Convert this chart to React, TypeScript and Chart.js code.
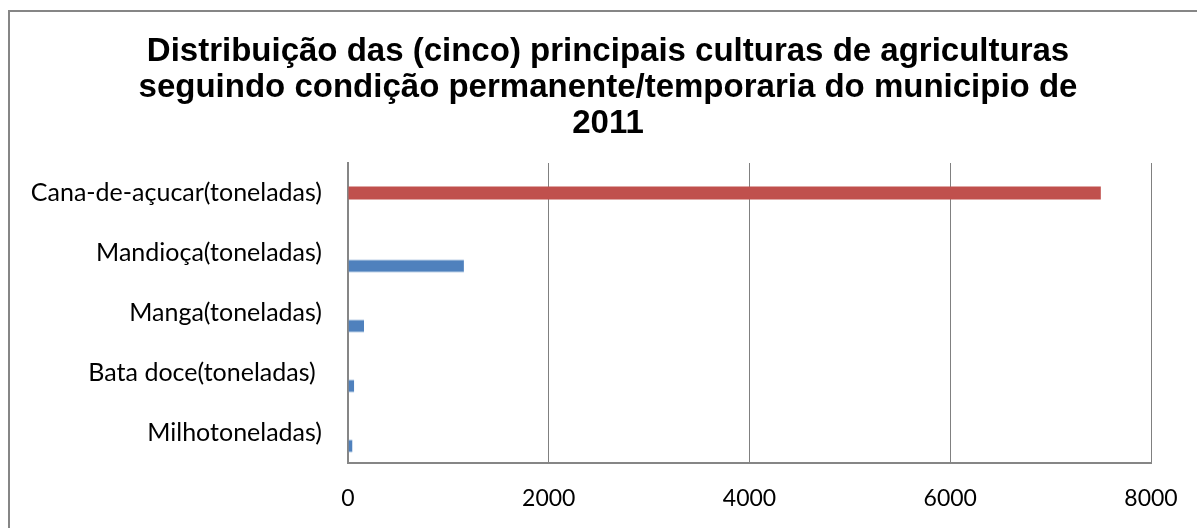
import React, { useEffect, useRef } from "react";
import { Chart, registerables } from "chart.js";

Chart.register(...registerables);

const categories = [
  "Cana-de-açucar(toneladas)",
  "Mandioça(toneladas)",
  "Manga(toneladas)",
  "Bata doce(toneladas) ",
  "Milhotoneladas)",
];
const serieTopo = [0, 0, 0, 0, 0];
const serieVermelha = [7500, 0, 0, 0, 0];
const serieAzul = [0, 1155, 160, 62, 45];
const titleLines = [
  "Distribuição das (cinco) principais culturas de agriculturas",
  "seguindo condição permanente/temporaria do municipio de",
  "2011",
];
const xTicks = [0, 2000, 4000, 6000, 8000];

const frame = {
  id: "frame",
  beforeDraw(chart: any) {
    const c = chart.ctx;
    c.save();
    c.strokeStyle = "#868686";
    c.lineWidth = 2;
    c.strokeRect(9, 11, 1400, 800);
    c.restore();
  },
};

const titleDraw = {
  id: "titleDraw",
  afterDraw(chart: any) {
    const c = chart.ctx;
    c.save();
    c.fillStyle = "#000";
    c.font = "bold 33px 'Liberation Sans', Arial, sans-serif";
    c.textAlign = "center";
    c.textBaseline = "middle";
    titleLines.forEach((line, i) => {
      c.fillText(line, 608, 52 + i * 36);
    });
    c.restore();
  },
};

export default function App() {
  const ref = useRef<HTMLCanvasElement>(null);
  useEffect(() => {
    document.body.style.overflow = "hidden";
    const chart = new Chart(ref.current!, {
      type: "bar",
      data: {
        labels: categories,
        datasets: [
          { label: "Série 3", data: serieTopo, backgroundColor: "#9BBB59" },
          { label: "Série 2", data: serieVermelha, backgroundColor: "#C0504D" },
          {
            label: "Série 1",
            data: serieAzul,
            backgroundColor: "#4F81BD",
            borderColor: "#7FA3D0",
            borderWidth: { top: 1, bottom: 1, left: 0, right: 0 } as any,
          },
        ],
      },
      options: {
        indexAxis: "y",
        animation: false,
        responsive: false,
        maintainAspectRatio: false,
        layout: { padding: { left: 0, right: 46, top: 163, bottom: 0 } },
        datasets: { bar: { categoryPercentage: 0.65, barPercentage: 1 } },
        plugins: {
          legend: { display: false },
          tooltip: { enabled: false },
          title: { display: false },
        },
        scales: {
          x: {
            min: 0,
            max: 8000,
            afterBuildTicks(s: any) {
              s.ticks = xTicks.map((v) => ({ value: v }));
            },
            afterFit(s: any) {
              s.height = 65;
              s.paddingLeft = 0;
              s.paddingRight = 0;
            },
            grid: { color: "#808080", lineWidth: 1, drawTicks: false },
            border: { color: "#868686", width: 2 },
            ticks: {
              color: "#000",
              padding: 22,
              font: { family: "Lato", size: 23 },
              callback: (v: any) => String(v),
            },
          },
          y: {
            afterFit(s: any) {
              s.width = 348;
              s.paddingTop = 0;
              s.paddingBottom = 0;
            },
            grid: { display: false, drawTicks: false },
            border: { color: "#868686", width: 2 },
            ticks: { color: "#000", padding: 26, font: { family: "Lato", size: 25 } },
          },
        },
      },
      plugins: [frame, titleDraw],
    });
    return () => chart.destroy();
  }, []);
  return (
    <div style={{ position: "fixed", left: 0, top: 0, width: 1197, height: 528, background: "#fff" }}>
      <canvas ref={ref} width={1197} height={528} />
    </div>
  );
}
